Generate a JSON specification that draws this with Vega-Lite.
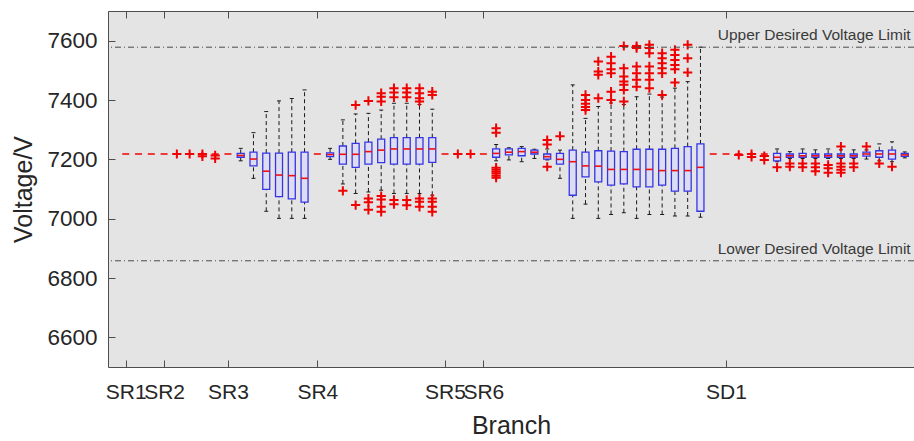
{
  "$schema": "https://vega.github.io/schema/vega-lite/v6.json",
  "width": 806,
  "height": 356,
  "autosize": "none",
  "padding": {"left": 108, "top": 11, "right": 0, "bottom": 74},
  "background": "white",
  "datasets": {
    "boxes": [
      {"pos": 1, "lo": 7218, "q1": 7218, "med": 7218, "q3": 7218, "hi": 7218},
      {"pos": 2, "lo": 7218, "q1": 7218, "med": 7218, "q3": 7218, "hi": 7218},
      {"pos": 3, "lo": 7218, "q1": 7218, "med": 7218, "q3": 7218, "hi": 7218},
      {"pos": 4, "lo": 7218, "q1": 7218, "med": 7218, "q3": 7218, "hi": 7218},
      {"pos": 5, "lo": 7218, "q1": 7218, "med": 7218, "q3": 7218, "hi": 7218},
      {"pos": 6, "lo": 7218, "q1": 7218, "med": 7218, "q3": 7218, "hi": 7218},
      {"pos": 7, "lo": 7218, "q1": 7218, "med": 7218, "q3": 7218, "hi": 7218},
      {"pos": 8, "lo": 7218, "q1": 7218, "med": 7218, "q3": 7218, "hi": 7218},
      {"pos": 9, "lo": 7218, "q1": 7218, "med": 7218, "q3": 7218, "hi": 7218},
      {"pos": 10, "lo": 7195, "q1": 7207, "med": 7213, "q3": 7220, "hi": 7237},
      {"pos": 11, "lo": 7136, "q1": 7178, "med": 7201, "q3": 7224, "hi": 7290},
      {"pos": 12, "lo": 7025, "q1": 7099, "med": 7160, "q3": 7221, "hi": 7361},
      {"pos": 13, "lo": 7001, "q1": 7074, "med": 7147, "q3": 7221, "hi": 7397},
      {"pos": 14, "lo": 7001, "q1": 7067, "med": 7145, "q3": 7224, "hi": 7405},
      {"pos": 15, "lo": 7001, "q1": 7056, "med": 7136, "q3": 7224, "hi": 7434},
      {"pos": 16, "lo": 7218, "q1": 7218, "med": 7218, "q3": 7218, "hi": 7218},
      {"pos": 17, "lo": 7200, "q1": 7209, "med": 7216, "q3": 7222, "hi": 7237},
      {"pos": 18, "lo": 7117, "q1": 7184, "med": 7217, "q3": 7245, "hi": 7333},
      {"pos": 19, "lo": 7085, "q1": 7173, "med": 7217, "q3": 7254, "hi": 7353},
      {"pos": 20, "lo": 7090, "q1": 7184, "med": 7226, "q3": 7258, "hi": 7355},
      {"pos": 21, "lo": 7096, "q1": 7189, "med": 7231, "q3": 7268, "hi": 7366},
      {"pos": 22, "lo": 7085, "q1": 7184, "med": 7235, "q3": 7273, "hi": 7389},
      {"pos": 23, "lo": 7085, "q1": 7184, "med": 7235, "q3": 7273, "hi": 7389},
      {"pos": 24, "lo": 7085, "q1": 7184, "med": 7235, "q3": 7273, "hi": 7385},
      {"pos": 25, "lo": 7079, "q1": 7190, "med": 7235, "q3": 7273, "hi": 7369},
      {"pos": 26, "lo": 7218, "q1": 7218, "med": 7218, "q3": 7218, "hi": 7218},
      {"pos": 27, "lo": 7218, "q1": 7218, "med": 7218, "q3": 7218, "hi": 7218},
      {"pos": 28, "lo": 7218, "q1": 7218, "med": 7218, "q3": 7218, "hi": 7218},
      {"pos": 29, "lo": 7218, "q1": 7218, "med": 7218, "q3": 7218, "hi": 7218},
      {"pos": 30, "lo": 7195, "q1": 7207, "med": 7220, "q3": 7235, "hi": 7250},
      {"pos": 31, "lo": 7198, "q1": 7215, "med": 7224, "q3": 7235, "hi": 7239},
      {"pos": 32, "lo": 7192, "q1": 7212, "med": 7226, "q3": 7237, "hi": 7243},
      {"pos": 33, "lo": 7203, "q1": 7218, "med": 7224, "q3": 7231, "hi": 7234},
      {"pos": 34, "lo": 7198, "q1": 7201, "med": 7209, "q3": 7218, "hi": 7235},
      {"pos": 35, "lo": 7136, "q1": 7184, "med": 7200, "q3": 7220, "hi": 7231},
      {"pos": 36, "lo": 7001, "q1": 7079, "med": 7192, "q3": 7231, "hi": 7451},
      {"pos": 37, "lo": 7049, "q1": 7141, "med": 7178, "q3": 7224, "hi": 7338},
      {"pos": 38, "lo": 7001, "q1": 7124, "med": 7177, "q3": 7229, "hi": 7378},
      {"pos": 39, "lo": 7014, "q1": 7113, "med": 7166, "q3": 7228, "hi": 7390},
      {"pos": 40, "lo": 7020, "q1": 7117, "med": 7166, "q3": 7226, "hi": 7385},
      {"pos": 41, "lo": 7001, "q1": 7107, "med": 7166, "q3": 7234, "hi": 7411},
      {"pos": 42, "lo": 7014, "q1": 7107, "med": 7166, "q3": 7234, "hi": 7420},
      {"pos": 43, "lo": 7014, "q1": 7113, "med": 7162, "q3": 7234, "hi": 7410},
      {"pos": 44, "lo": 7009, "q1": 7093, "med": 7162, "q3": 7237, "hi": 7440},
      {"pos": 45, "lo": 7009, "q1": 7093, "med": 7162, "q3": 7243, "hi": 7462},
      {"pos": 46, "lo": 7005, "q1": 7025, "med": 7173, "q3": 7252, "hi": 7578},
      {"pos": 47, "lo": 7218, "q1": 7218, "med": 7218, "q3": 7218, "hi": 7218},
      {"pos": 48, "lo": 7218, "q1": 7218, "med": 7218, "q3": 7218, "hi": 7218},
      {"pos": 49, "lo": 7218, "q1": 7218, "med": 7218, "q3": 7218, "hi": 7218},
      {"pos": 50, "lo": 7218, "q1": 7218, "med": 7218, "q3": 7218, "hi": 7218},
      {"pos": 51, "lo": 7218, "q1": 7218, "med": 7218, "q3": 7218, "hi": 7218},
      {"pos": 52, "lo": 7192, "q1": 7195, "med": 7207, "q3": 7220, "hi": 7235},
      {"pos": 53, "lo": 7203, "q1": 7207, "med": 7212, "q3": 7218, "hi": 7226},
      {"pos": 54, "lo": 7203, "q1": 7207, "med": 7212, "q3": 7220, "hi": 7235},
      {"pos": 55, "lo": 7203, "q1": 7207, "med": 7212, "q3": 7218, "hi": 7232},
      {"pos": 56, "lo": 7203, "q1": 7207, "med": 7212, "q3": 7218, "hi": 7235},
      {"pos": 57, "lo": 7203, "q1": 7207, "med": 7212, "q3": 7218, "hi": 7232},
      {"pos": 58, "lo": 7203, "q1": 7207, "med": 7212, "q3": 7218, "hi": 7232},
      {"pos": 59, "lo": 7201, "q1": 7211, "med": 7218, "q3": 7224, "hi": 7232},
      {"pos": 60, "lo": 7195, "q1": 7207, "med": 7218, "q3": 7229, "hi": 7252},
      {"pos": 61, "lo": 7192, "q1": 7201, "med": 7218, "q3": 7231, "hi": 7259},
      {"pos": 62, "lo": 7205, "q1": 7210, "med": 7215, "q3": 7220, "hi": 7225}
    ],
    "outliers": [
      {"pos": 5, "v": 7218}, {"pos": 6, "v": 7218},
      {"pos": 7, "v": 7218}, {"pos": 7, "v": 7210},
      {"pos": 8, "v": 7213}, {"pos": 8, "v": 7203},
      {"pos": 18, "v": 7094},
      {"pos": 19, "v": 7383}, {"pos": 19, "v": 7046},
      {"pos": 20, "v": 7397}, {"pos": 20, "v": 7068}, {"pos": 20, "v": 7055}, {"pos": 20, "v": 7030},
      {"pos": 21, "v": 7423}, {"pos": 21, "v": 7411}, {"pos": 21, "v": 7395},
      {"pos": 21, "v": 7076}, {"pos": 21, "v": 7065}, {"pos": 21, "v": 7040}, {"pos": 21, "v": 7023},
      {"pos": 22, "v": 7440}, {"pos": 22, "v": 7425}, {"pos": 22, "v": 7409},
      {"pos": 22, "v": 7063}, {"pos": 22, "v": 7049},
      {"pos": 23, "v": 7440}, {"pos": 23, "v": 7425}, {"pos": 23, "v": 7409},
      {"pos": 23, "v": 7063}, {"pos": 23, "v": 7045},
      {"pos": 24, "v": 7440}, {"pos": 24, "v": 7423}, {"pos": 24, "v": 7406}, {"pos": 24, "v": 7395},
      {"pos": 24, "v": 7068}, {"pos": 24, "v": 7057}, {"pos": 24, "v": 7040},
      {"pos": 25, "v": 7428}, {"pos": 25, "v": 7417},
      {"pos": 25, "v": 7068}, {"pos": 25, "v": 7057}, {"pos": 25, "v": 7040}, {"pos": 25, "v": 7023},
      {"pos": 27, "v": 7218}, {"pos": 28, "v": 7218},
      {"pos": 30, "v": 7305}, {"pos": 30, "v": 7290},
      {"pos": 30, "v": 7172}, {"pos": 30, "v": 7165}, {"pos": 30, "v": 7158}, {"pos": 30, "v": 7152}, {"pos": 30, "v": 7145}, {"pos": 30, "v": 7138},
      {"pos": 34, "v": 7265}, {"pos": 34, "v": 7250}, {"pos": 34, "v": 7175},
      {"pos": 35, "v": 7278},
      {"pos": 37, "v": 7417}, {"pos": 37, "v": 7400}, {"pos": 37, "v": 7387}, {"pos": 37, "v": 7376}, {"pos": 37, "v": 7366},
      {"pos": 38, "v": 7530}, {"pos": 38, "v": 7496}, {"pos": 38, "v": 7485}, {"pos": 38, "v": 7406},
      {"pos": 39, "v": 7546}, {"pos": 39, "v": 7524}, {"pos": 39, "v": 7504}, {"pos": 39, "v": 7490}, {"pos": 39, "v": 7428}, {"pos": 39, "v": 7400},
      {"pos": 40, "v": 7582}, {"pos": 40, "v": 7507}, {"pos": 40, "v": 7479}, {"pos": 40, "v": 7462}, {"pos": 40, "v": 7451}, {"pos": 40, "v": 7434}, {"pos": 40, "v": 7395},
      {"pos": 41, "v": 7582}, {"pos": 41, "v": 7575}, {"pos": 41, "v": 7513}, {"pos": 41, "v": 7490}, {"pos": 41, "v": 7468}, {"pos": 41, "v": 7445},
      {"pos": 42, "v": 7586}, {"pos": 42, "v": 7575}, {"pos": 42, "v": 7558}, {"pos": 42, "v": 7513}, {"pos": 42, "v": 7490}, {"pos": 42, "v": 7468}, {"pos": 42, "v": 7440},
      {"pos": 43, "v": 7558}, {"pos": 43, "v": 7541}, {"pos": 43, "v": 7524}, {"pos": 43, "v": 7507}, {"pos": 43, "v": 7490}, {"pos": 43, "v": 7417},
      {"pos": 44, "v": 7569}, {"pos": 44, "v": 7552}, {"pos": 44, "v": 7535}, {"pos": 44, "v": 7518}, {"pos": 44, "v": 7504}, {"pos": 44, "v": 7459},
      {"pos": 45, "v": 7586}, {"pos": 45, "v": 7541}, {"pos": 45, "v": 7493},
      {"pos": 49, "v": 7215},
      {"pos": 50, "v": 7218}, {"pos": 50, "v": 7208},
      {"pos": 51, "v": 7211}, {"pos": 51, "v": 7198},
      {"pos": 52, "v": 7173},
      {"pos": 53, "v": 7186}, {"pos": 53, "v": 7175},
      {"pos": 54, "v": 7186}, {"pos": 54, "v": 7173},
      {"pos": 55, "v": 7186}, {"pos": 55, "v": 7173}, {"pos": 55, "v": 7160},
      {"pos": 56, "v": 7181}, {"pos": 56, "v": 7170}, {"pos": 56, "v": 7155},
      {"pos": 57, "v": 7243}, {"pos": 57, "v": 7186}, {"pos": 57, "v": 7175}, {"pos": 57, "v": 7165}, {"pos": 57, "v": 7155},
      {"pos": 58, "v": 7186}, {"pos": 58, "v": 7173},
      {"pos": 59, "v": 7243},
      {"pos": 60, "v": 7186},
      {"pos": 61, "v": 7175}
    ],
    "limits": [
      {"v": 7578, "label": "Upper Desired Voltage Limit"},
      {"v": 6858, "label": "Lower Desired Voltage Limit"}
    ]
  },
  "resolve": {"axis": {"x": "independent"}},
  "layer": [
    {
      "data": {"name": "boxes"},
      "transform": [{"filter": "datum.hi > datum.q3"}],
      "mark": {"type": "rule", "color": "#1a1a1a", "strokeWidth": 1, "strokeDash": [4, 3]},
      "encoding": {
        "x": {"field": "pos", "type": "quantitative", "scale": {"domain": [0, 62.33], "nice": false, "zero": false},
              "axis": {"orient": "bottom", "values": [1, 4, 9, 16, 26, 29, 48], "title": "Branch",
                       "labelExpr": "datum.value == 1 ? 'SR1' : datum.value == 4 ? 'SR2' : datum.value == 9 ? 'SR3' : datum.value == 16 ? 'SR4' : datum.value == 26 ? 'SR5' : datum.value == 29 ? 'SR6' : 'SD1'",
                       "labelFontSize": 21, "labelOverlap": false, "labelFlush": false, "labelBound": false, "labelPadding": 21, "titlePadding": 11}},
        "y": {"field": "q3", "type": "quantitative", "title": "Voltage/V",
              "scale": {"domain": [6500, 7700], "nice": false, "zero": false},
              "axis": {"values": [6600, 6800, 7000, 7200, 7400, 7600], "format": "d", "labelPadding": 18, "titlePadding": 10}},
        "y2": {"field": "hi"}
      }
    },
    {
      "data": {"name": "boxes"},
      "transform": [{"filter": "datum.q1 > datum.lo"}],
      "mark": {"type": "rule", "color": "#1a1a1a", "strokeWidth": 1, "strokeDash": [4, 3]},
      "encoding": {
        "x": {"field": "pos", "type": "quantitative", "axis": null},
        "y": {"field": "lo", "type": "quantitative", "title": "Voltage/V"},
        "y2": {"field": "q1"}
      }
    },
    {
      "data": {"name": "boxes"},
      "transform": [{"filter": "datum.hi > datum.q3"}],
      "mark": {"type": "tick", "orient": "horizontal", "color": "#1a1a1a", "size": 4, "thickness": 1, "opacity": 1},
      "encoding": {
        "x": {"field": "pos", "type": "quantitative", "axis": null},
        "y": {"field": "hi", "type": "quantitative", "title": "Voltage/V"}
      }
    },
    {
      "data": {"name": "boxes"},
      "transform": [{"filter": "datum.q1 > datum.lo"}],
      "mark": {"type": "tick", "orient": "horizontal", "color": "#1a1a1a", "size": 4, "thickness": 1, "opacity": 1},
      "encoding": {
        "x": {"field": "pos", "type": "quantitative", "axis": null},
        "y": {"field": "lo", "type": "quantitative", "title": "Voltage/V"}
      }
    },
    {
      "data": {"name": "boxes"},
      "transform": [{"filter": "datum.q3 > datum.q1"}],
      "mark": {"type": "bar", "size": 7, "fill": "#dcdcf2", "stroke": "#3535e8", "strokeWidth": 1.3, "opacity": 1},
      "encoding": {
        "x": {"field": "pos", "type": "quantitative", "axis": null},
        "y": {"field": "q1", "type": "quantitative", "title": "Voltage/V"},
        "y2": {"field": "q3"}
      }
    },
    {
      "data": {"name": "boxes"},
      "mark": {"type": "tick", "orient": "horizontal", "color": "#f01010", "size": 7, "thickness": 1.6, "opacity": 1},
      "encoding": {
        "x": {"field": "pos", "type": "quantitative",
              "axis": {"orient": "top", "values": [1, 4, 9, 16, 26, 29, 48], "labels": false, "title": null}},
        "y": {"field": "med", "type": "quantitative", "title": "Voltage/V"}
      }
    },
    {
      "data": {"name": "outliers"},
      "mark": {"type": "point", "shape": "M-1,0H1M0,-1V1", "filled": false, "stroke": "#f00000", "strokeWidth": 2, "size": 85, "opacity": 1},
      "encoding": {
        "x": {"field": "pos", "type": "quantitative", "axis": null},
        "y": {"field": "v", "type": "quantitative", "title": "Voltage/V"}
      }
    },
    {
      "data": {"name": "limits"},
      "mark": {"type": "rule", "color": "#4a4a4a", "strokeWidth": 1, "strokeDash": [6, 3, 1, 3]},
      "encoding": {
        "y": {"field": "v", "type": "quantitative", "title": "Voltage/V"}
      }
    },
    {
      "data": {"name": "limits"},
      "mark": {"type": "text", "align": "left", "baseline": "alphabetic", "dy": -7, "fontSize": 15.5, "color": "#3a3a3a", "font": "Liberation Sans"},
      "encoding": {
        "x": {"datum": 47.35, "type": "quantitative", "axis": null},
        "y": {"field": "v", "type": "quantitative", "title": "Voltage/V"},
        "text": {"field": "label"}
      }
    }
  ],
  "config": {
    "view": {"stroke": null, "fill": "#e4e4e4"},
    "font": "Liberation Sans",
    "axis": {
      "grid": false,
      "domainColor": "#4d4d4d",
      "domainWidth": 1,
      "tickColor": "#4d4d4d",
      "tickSize": -7,
      "labelColor": "#262626",
      "titleColor": "#262626",
      "labelFont": "Liberation Sans",
      "titleFont": "Liberation Sans",
      "labelFontSize": 22.5,
      "titleFontSize": 25,
      "titleFontWeight": "normal"
    }
  }
}
